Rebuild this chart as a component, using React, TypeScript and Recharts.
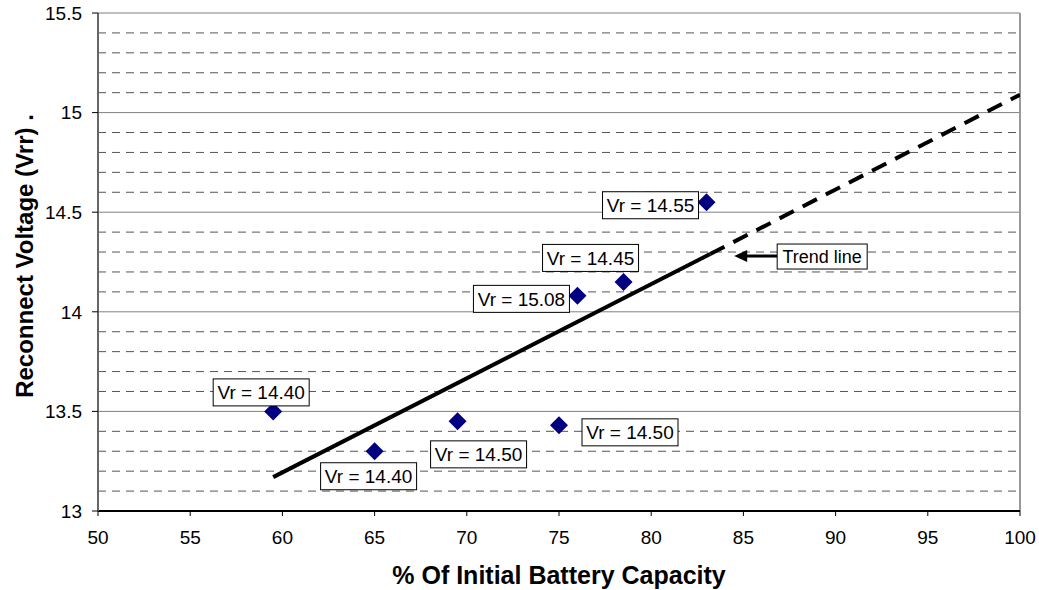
import React from "react";
import {
  ComposedChart,
  Scatter,
  Line,
  XAxis,
  YAxis,
  CartesianGrid,
  ReferenceLine,
  ReferenceDot,
  LabelList,
} from "recharts";

const capacity = [59.5, 65, 69.5, 75, 76, 78.5, 83];
const voltage = [13.5, 13.3, 13.45, 13.43, 14.08, 14.15, 14.55];
const vrLabels = [
  "Vr = 14.40",
  "Vr = 14.40",
  "Vr = 14.50",
  "Vr = 14.50",
  "Vr = 15.08",
  "Vr = 14.45",
  "Vr = 14.55",
];

// trend line: solid part, then dashed extension
const trendSolidX = [59.5, 83.2];
const trendSolidY = [13.17, 14.29];
const trendDashX = [83.2, 100];
const trendDashY = [14.29, 15.09];

const xTicks = [50, 55, 60, 65, 70, 75, 80, 85, 90, 95, 100];
const yTicks = [13, 13.5, 14, 14.5, 15, 15.5];
const minorY = [
  13.1, 13.2, 13.3, 13.4, 13.6, 13.7, 13.8, 13.9, 14.1, 14.2, 14.3, 14.4,
  14.6, 14.7, 14.8, 14.9, 15.1, 15.2, 15.3, 15.4,
];

// label box offsets from each point (pixels), same order as the data
const labelOffsets = [
  [-12, -19],
  [-6, 25],
  [21, 33],
  [71, 7],
  [-56, 3],
  [-33, -24],
  [-56, 3],
];

const FONT = "'Liberation Sans', Arial, sans-serif";

const points = capacity.map((x, i) => ({ x, y: voltage[i], label: vrLabels[i] }));
const trendSolid = trendSolidX.map((x, i) => ({ x, y: trendSolidY[i] }));
const trendDash = trendDashX.map((x, i) => ({ x, y: trendDashY[i] }));

function Diamond(props: any) {
  const { cx, cy } = props;
  const r = 9;
  return (
    <polygon
      points={`${cx},${cy - r} ${cx + r},${cy} ${cx},${cy + r} ${cx - r},${cy}`}
      fill="#000080"
    />
  );
}

function BoxLabel(props: any) {
  const { x, y, width, height, value, index } = props;
  const cx = x + (width || 0) / 2;
  const cy = y + (height || 0) / 2;
  const [dx, dy] = labelOffsets[index] || [0, 0];
  const w = 96;
  const h = 27;
  return (
    <g>
      <rect
        x={cx + dx - w / 2}
        y={cy + dy - h / 2}
        width={w}
        height={h}
        fill="#fff"
        stroke="#000"
        strokeWidth={1}
      />
      <text
        x={cx + dx}
        y={cy + dy + 7}
        textAnchor="middle"
        fontSize={19}
        fontFamily={FONT}
        fill="#000"
      >
        {value}
      </text>
    </g>
  );
}

function TrendNote(props: any) {
  const { cx, cy } = props;
  return (
    <g>
      <polygon
        points={`${cx},${cy} ${cx + 13},${cy - 6} ${cx + 13},${cy + 6}`}
        fill="#000"
      />
      <line x1={cx + 12} y1={cy} x2={cx + 43} y2={cy} stroke="#000" strokeWidth={3} />
      <rect x={cx + 43} y={cy - 12} width={90} height={25} fill="#fff" stroke="#000" />
      <text
        x={cx + 88}
        y={cy + 7}
        textAnchor="middle"
        fontSize={18}
        fontFamily={FONT}
        fill="#000"
      >
        Trend line
      </text>
    </g>
  );
}

function YTitle() {
  return (
    <text
      x={24}
      y={256}
      transform="rotate(-90 24 256)"
      textAnchor="middle"
      dominantBaseline="central"
      fontSize={24}
      fontWeight="bold"
      fontFamily={FONT}
      fill="#000"
    >
      Reconnect Voltage (Vrr) .
    </text>
  );
}

export default function App() {
  return (
    <div style={{ position: "absolute", left: 0, top: 0, background: "#fff" }}>
      <ComposedChart
        width={1039}
        height={590}
        margin={{ top: 13, right: 19, bottom: 0, left: 0 }}
        style={{ fontFamily: FONT }}
      >
        <CartesianGrid
          vertical={false}
          horizontal={true}
          stroke="#808080"
          strokeWidth={1}
        />
        {minorY.map((v) => (
          <ReferenceLine
            key={v}
            y={v}
            stroke="#555"
            strokeWidth={1}
            strokeDasharray="8 6"
          />
        ))}
        <ReferenceLine x={100} stroke="#999" strokeWidth={2} />
        <XAxis
          type="number"
          dataKey="x"
          domain={[50, 100]}
          ticks={xTicks}
          interval={0}
          height={79}
          tickSize={5}
          tickMargin={15}
          axisLine={{ stroke: "#000", strokeWidth: 2 }}
          tickLine={{ stroke: "#000" }}
          tick={{ fill: "#000", fontSize: 19, fontFamily: FONT }}
          allowDataOverflow
          label={{
            value: "% Of Initial Battery Capacity",
            position: "insideBottom",
            offset: 6,
            fill: "#000",
            fontSize: 25,
            fontWeight: "bold",
            fontFamily: FONT,
          }}
        />
        <YAxis
          type="number"
          dataKey="y"
          domain={[13, 15.5]}
          ticks={yTicks}
          interval={0}
          width={98}
          tickSize={6}
          tickMargin={10}
          axisLine={{ stroke: "#666", strokeWidth: 2 }}
          tickLine={{ stroke: "#000" }}
          tick={{ fill: "#000", fontSize: 19, fontFamily: FONT }}
          allowDataOverflow
          label={{ content: () => <YTitle /> }}
        />
        <Line
          data={trendSolid}
          dataKey="y"
          type="linear"
          stroke="#000"
          strokeWidth={4}
          dot={false}
          activeDot={false}
          isAnimationActive={false}
        />
        <Line
          data={trendDash}
          dataKey="y"
          type="linear"
          stroke="#000"
          strokeWidth={4}
          strokeDasharray="16 10"
          dot={false}
          activeDot={false}
          isAnimationActive={false}
        />
        <Scatter data={points} shape={<Diamond />} isAnimationActive={false}>
          <LabelList dataKey="label" content={<BoxLabel />} />
        </Scatter>
        <ReferenceDot x={84.5} y={14.28} r={0} shape={<TrendNote />} />
      </ComposedChart>
    </div>
  );
}
